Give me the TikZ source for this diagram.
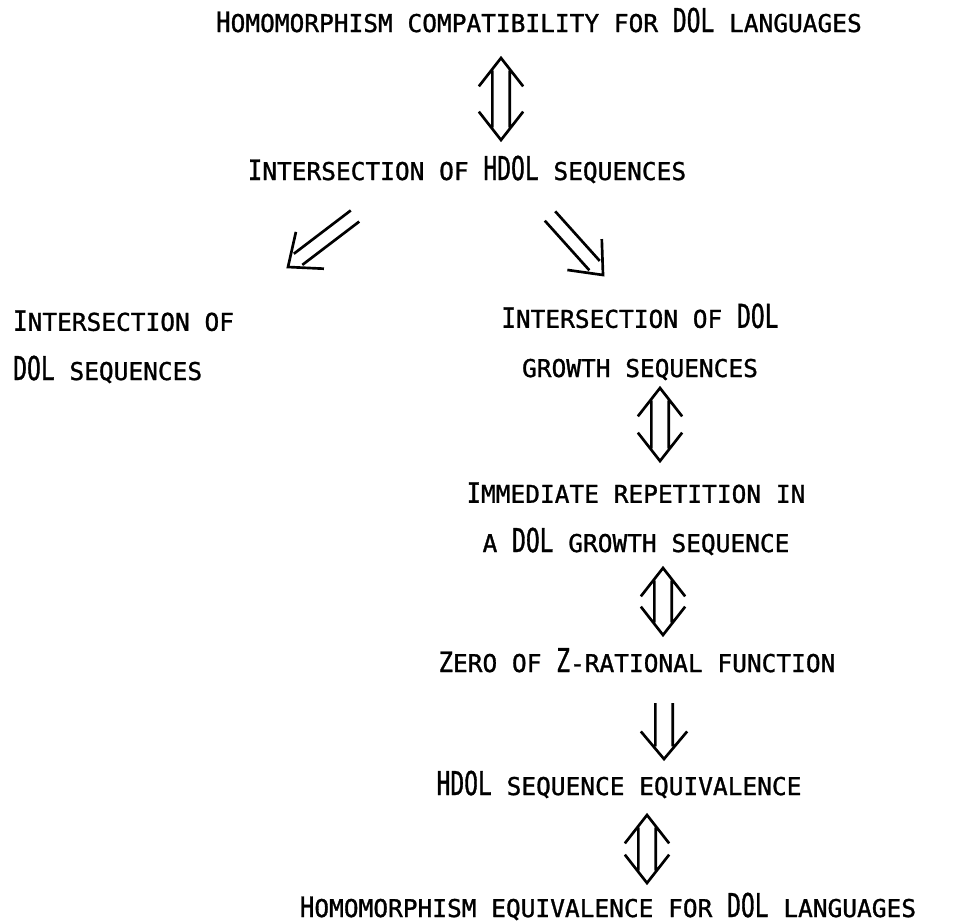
\documentclass[tikz,border=0pt]{standalone}
\usepackage{fontspec}
\usetikzlibrary{calc}

\newfontfamily\smallcapsfont[FakeBold=1.2]{DejaVu Sans Mono}
\newfontfamily\initcapsfont[FakeStretch=0.85, FakeBold=1.2]{DejaVu Sans Mono}
\newfontfamily\bigcapsfont[FakeStretch=0.7, FakeBold=1]{DejaVu Sans Mono}
\newcommand\ic[1]{{\initcapsfont\fontsize{24pt}{42pt}\selectfont #1}}
\newcommand\bc[1]{{\bigcapsfont\fontsize{28pt}{42pt}\selectfont #1}}

\tikzset{
  lbl/.style={inner sep=0pt, anchor=base, font=\smallcapsfont\fontsize{20.9pt}{42pt}\selectfont},
  dbl/.style={line width=0.08cm, line join=miter},
  % double shaft with an open head at both ends
  eqv/.style={dbl, to path={
    ($(\tikztostart)!0.38cm!(\tikztotarget)!0.26cm!90:(\tikztotarget)$) -- ($(\tikztotarget)!0.38cm!(\tikztostart)!0.26cm!-90:(\tikztostart)$)
    ($(\tikztostart)!0.38cm!(\tikztotarget)!0.26cm!-90:(\tikztotarget)$) -- ($(\tikztotarget)!0.38cm!(\tikztostart)!0.26cm!90:(\tikztostart)$)
    ($(\tikztostart)!1.08cm!38:(\tikztotarget)$) -- (\tikztostart) -- ($(\tikztostart)!1.08cm!-38:(\tikztotarget)$)
    ($(\tikztotarget)!1.08cm!38:(\tikztostart)$) -- (\tikztotarget) -- ($(\tikztotarget)!1.08cm!-38:(\tikztostart)$)
  }},
  % double shaft with an open head at the end only
  imp/.style={dbl, to path={
    ($(\tikztostart)!#1!90:(\tikztotarget)$) -- ($(\tikztotarget)!0.38cm!(\tikztostart)!#1!-90:(\tikztostart)$)
    ($(\tikztostart)!#1!-90:(\tikztotarget)$) -- ($(\tikztotarget)!0.38cm!(\tikztostart)!#1!90:(\tikztostart)$)
    ($(\tikztotarget)!1.08cm!40:(\tikztostart)$) -- (\tikztotarget) -- ($(\tikztotarget)!1.08cm!-40:(\tikztostart)$)
  }},
  imp/.default=0.26cm
}

\begin{document}
\begin{tikzpicture}[x=0.03cm, y=-0.03cm]
  \useasboundingbox (0,0) rectangle (963,923);

  % Nodes
  \node[lbl] (hcomp) at (539,32) {\ic{H}OMOMORPHISM COMPATIBILITY FOR \bc{DOL} LANGUAGES};
  \node[lbl] (hdolint) at (467,180) {\ic{I}NTERSECTION OF \bc{HDOL} SEQUENCES};
  \node[lbl, anchor=base west, align=left] (dolint) at (13,380) {\ic{I}NTERSECTION OF\\\bc{DOL} SEQUENCES};
  \node[lbl, align=center] (growint) at (640,377) {\ic{I}NTERSECTION OF \bc{DOL}\\GROWTH SEQUENCES};
  \node[lbl, align=center] (rep) at (636,552) {\ic{I}MMEDIATE REPETITION IN\\A \bc{DOL} GROWTH SEQUENCE};
  \node[lbl] (zero) at (637,672) {\ic{Z}ERO OF \bc{Z}-RATIONAL FUNCTION};
  \node[lbl] (hseq) at (619,795) {\bc{HDOL} SEQUENCE EQUIVALENCE};
  \node[lbl] (heqv) at (608,917) {\ic{H}OMOMORPHISM EQUIVALENCE FOR \bc{DOL} LANGUAGES};

  % Arrow ends
  \coordinate (hcomp dn) at (501,58);
  \coordinate (hdolint up) at (501,140);
  \coordinate (hdolint sw) at (355,216);
  \coordinate (dolint ne) at (288,267);
  \coordinate (hdolint se) at (550,216);
  \coordinate (growint nw) at (603,275);
  \coordinate (growint dn) at (660,388);
  \coordinate (rep up) at (660,461);
  \coordinate (rep dn) at (663,568);
  \coordinate (zero up) at (663,635);
  \coordinate (zero dn) at (664,703);
  \coordinate (hseq up) at (664,759);
  \coordinate (hseq dn) at (647,815);
  \coordinate (heqv up) at (647,883);

  % Arrows
  \draw[eqv] (hcomp dn) to (hdolint up);
  \draw[imp=0.21cm] (hdolint sw) to (dolint ne);
  \draw[imp=0.21cm] (hdolint se) to (growint nw);
  \draw[eqv] (growint dn) to (rep up);
  \draw[eqv] (rep dn) to (zero up);
  \draw[imp] (zero dn) to (hseq up);
  \draw[eqv] (hseq dn) to (heqv up);
\end{tikzpicture}
\end{document}
